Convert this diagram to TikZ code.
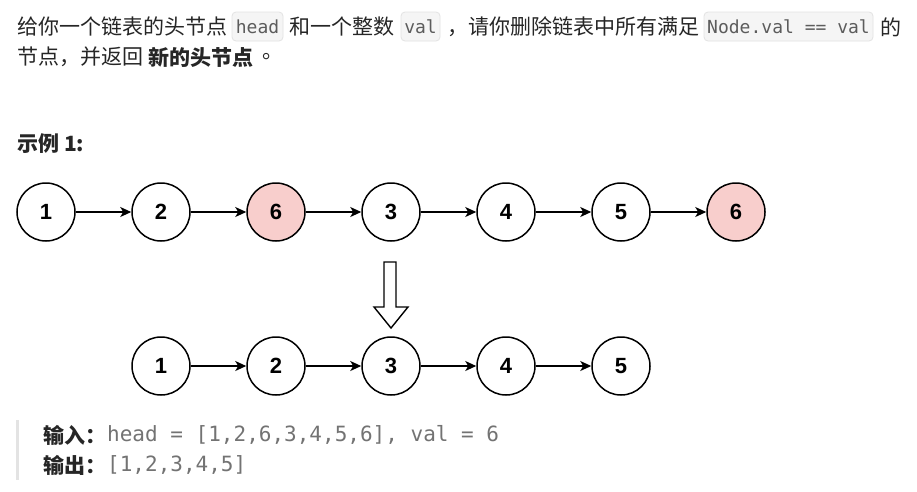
\documentclass[tikz,border=0pt]{standalone}
\usepackage{fontspec}
\setmainfont{Liberation Sans}
\newfontfamily\cjk{Noto Sans CJK SC}
\newfontfamily\code{DejaVu Sans Mono}
\usetikzlibrary{arrows.meta,positioning}
\definecolor{txt}{HTML}{262626}
\definecolor{codetxt}{HTML}{5C5C5C}
\definecolor{outtxt}{HTML}{737373}
\definecolor{chipbg}{HTML}{F5F5F5}
\definecolor{chipline}{HTML}{E3E3E3}
\definecolor{delfill}{HTML}{F8CECC}
\definecolor{quotebar}{HTML}{E3E3E3}
\tikzset{every node/.style={inner sep=0pt, text=txt},
  para/.style={anchor=west, font=\cjk\fontsize{21}{25}\selectfont},
  parab/.style={para, font=\cjk\fontsize{21}{25}\selectfont\bfseries},
  chip/.style={draw=chipline, fill=chipbg, rounded corners=4pt, line width=0.8pt},
  chiptext/.style={font=\code\fontsize{18}{22}\selectfont, text=codetxt},
  outcode/.style={anchor=west, font=\code\fontsize{21}{25}\selectfont, text=outtxt},
  listnode/.style={draw=black, circle, line width=1.5pt, minimum size=58pt, fill=white, font=\fontsize{22}{26}\selectfont\bfseries, text=black},
  delnode/.style={listnode, fill=delfill},
  link/.style={-{Stealth[length=11pt,width=10pt,inset=3pt]}, line width=1.4pt, black}}

\begin{document}
\begin{tikzpicture}[x=1pt,y=-1pt]
  \useasboundingbox[fill=white] (0,0) rectangle (917,491);

  % problem text
  \node[para] (p1) at (17,27) {给你一个链表的头节点};
  \draw[chip] (232,12) rectangle (283,41);
  \node[chiptext] (c1) at (257.5,27) {head};
  \node[para] (p2) at (289,27) {和一个整数};
  \draw[chip] (401,12) rectangle (440,41);
  \node[chiptext] (c2) at (420.5,27) {val};
  \node[para] (p3) at (447,27) {，请你删除链表中所有满足};
  \draw[chip] (704,12) rectangle (873,41);
  \node[chiptext] (c3) at (788.5,27) {Node.val == val};
  \node[para] (p4) at (880,27) {的};
  \node[para] (p5) at (17,57) {节点，并返回};
  \node[parab] (p6) at (148,57) {新的头节点};
  \node[para] (p7) at (262,57) {。};

  \node[parab] (ex) at (17,144) {示例 1:};

  % input list
  \foreach \v [count=\i] in {1,2,6,3,4,5,6} {
    \ifnum\v=6
      \node[delnode] (a\i) at ({46+115*(\i-1)},212) {\v};
    \else
      \node[listnode] (a\i) at ({46+115*(\i-1)},212) {\v};
    \fi
  }
  \foreach \i [evaluate=\i as \j using int(\i+1)] in {1,...,6}
    \draw[link] (a\i) -- (a\j);

  % hollow arrow
  \draw[line width=1.4pt, line join=miter, black, fill=white]
    (384,262) -- (396,262) -- (396,307) -- (408,307) -- (391,328)
    -- (374,307) -- (384,307) -- cycle;

  % output list
  \foreach \v [count=\i] in {1,2,3,4,5}
    \node[listnode] (b\i) at ({161+115*(\i-1)},366) {\v};
  \foreach \i [evaluate=\i as \j using int(\i+1)] in {1,...,4}
    \draw[link] (b\i) -- (b\j);

  % input / output block
  \fill[quotebar] (16,420) rectangle (19,480);
  \node[parab] (in) at (43,435) {输入：};
  \node[outcode] (inv) at (107,435) {head = [1,2,6,3,4,5,6], val = 6};
  \node[parab] (out) at (43,465) {输出：};
  \node[outcode] (outv) at (107,465) {[1,2,3,4,5]};
\end{tikzpicture}
\end{document}
